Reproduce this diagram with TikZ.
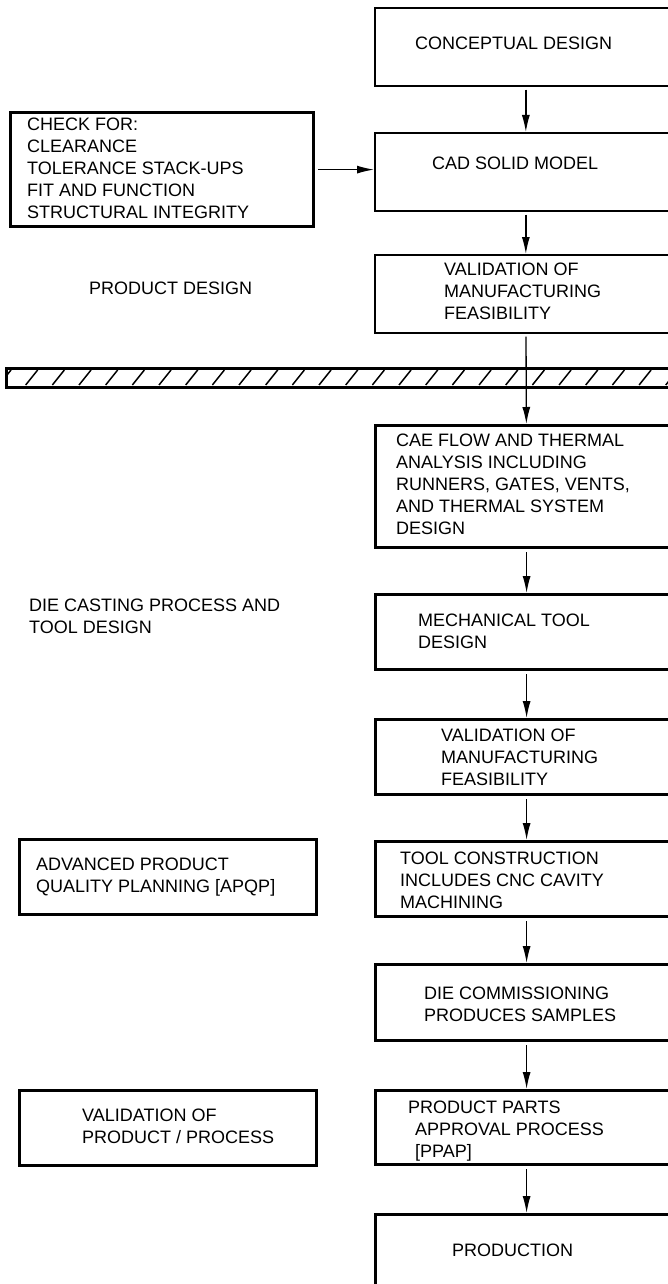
\documentclass[tikz,border=0pt]{standalone}
\usepackage{fontspec}
\setmainfont{Liberation Sans}
\usetikzlibrary{arrows.meta}

\begin{document}
\begin{tikzpicture}[x=1pt, y=-1pt]
      \tikzstyle{box}=[draw, anchor=north west, inner sep=0pt]
      % y of a text node is the baseline of its last line
      \tikzstyle{txt}=[anchor=base west, inner sep=0pt, align=left,
        font=\fontsize{18}{22}\selectfont]
      \tikzstyle{flow}=[-{Latex[length=17pt, width=8pt]}, line width=1.3pt,
        shorten <=3pt]
      \useasboundingbox (0, 0) rectangle (668, 1284);

      % right column of steps
      \foreach \i/\y/\h/\w in {1/7/78/1.7, 2/132/78/1.7, 3/254/78/1.7,
          4/424/122/3.2, 5/593/75/3.2, 6/718/75/3.2, 7/840/75/3.2,
          8/963/76/3.2, 9/1089/74/3.2, 10/1213/120/3.2}
      {
        \path (374, \y) node[box, line width=\w pt, minimum width=302pt,
          minimum height=\h pt] (b\i) {};
      }

      % left column
      \path (9, 111) node[box, line width=3.2pt, minimum width=303pt,
        minimum height=114pt] (chk) {};
      \path (18, 838) node[box, line width=3.2pt, minimum width=297pt,
        minimum height=75pt] (apqp) {};
      \path (18, 1089) node[box, line width=3.2pt, minimum width=297pt,
        minimum height=75pt] (vpp) {};

      % hatched bar
      \begin{scope}
        \clip (6, 368) rectangle (700, 387);
        \foreach \k in {0, ..., 26}
        {
          \draw[line width=1.5pt] (\k*26.67-1, 385) -- (\k*26.67+11, 370);
        }
      \end{scope}
      \draw[line width=3pt] (6, 368) rectangle (700, 387);

      \draw[flow] (chk) -- (chk -| b2.west);
      \foreach \i/\j in {1/2, 2/3, 3/4, 4/5, 5/6, 6/7, 7/8, 8/9, 9/10}
      {
        \draw[flow] (b\i) -- (b\j);
      }

      \path (415, 49.5) node[txt] (t1) {CONCEPTUAL DESIGN};
      \path (432, 169.5) node[txt] (t2) {CAD SOLID MODEL};
      \path (444, 319.5) node[txt] (t3) {VALIDATION OF\\MANUFACTURING\\FEASIBILITY};
      \path (396, 534.5) node[txt] (t4) {CAE FLOW AND THERMAL\\ANALYSIS INCLUDING\\RUNNERS, GATES, VENTS,\\AND THERMAL SYSTEM\\DESIGN};
      \path (418, 648.5) node[txt] (t5) {MECHANICAL TOOL\\DESIGN};
      \path (441, 785.5) node[txt] (t6) {VALIDATION OF\\MANUFACTURING\\FEASIBILITY};
      \path (400, 908.5) node[txt] (t7) {TOOL CONSTRUCTION\\INCLUDES CNC CAVITY\\MACHINING};
      \path (424, 1021.5) node[txt] (t8) {DIE COMMISSIONING\\PRODUCES SAMPLES};
      \path (408, 1157.5) node[txt] (t9) {PRODUCT PARTS\\\hspace*{7pt}APPROVAL PROCESS\\\hspace*{7pt}[PPAP]};
      \path (452, 1256.5) node[txt] (t10) {PRODUCTION};

      \path (27, 218.5) node[txt] (tchk) {CHECK FOR:\\CLEARANCE\\TOLERANCE STACK-UPS\\FIT AND FUNCTION\\STRUCTURAL INTEGRITY};
      \path (89, 294.5) node[txt] (tpd) {PRODUCT DESIGN};
      \path (29, 633.5) node[txt] (tdc) {DIE CASTING PROCESS AND\\TOOL DESIGN};
      \path (36, 892) node[txt] (tapqp) {ADVANCED PRODUCT\\QUALITY PLANNING [APQP]};
      \path (82, 1143.5) node[txt] (tvpp) {VALIDATION OF\\PRODUCT / PROCESS};
    \end{tikzpicture}
\end{document}
